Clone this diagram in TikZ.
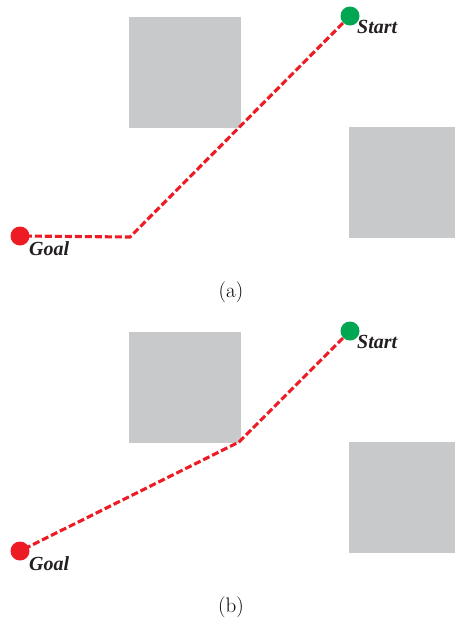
\documentclass[tikz,border=0pt]{standalone}
\usepackage{fontspec}
\setmainfont{Latin Modern Roman}
\newfontfamily\labelfont{Liberation Serif}
\definecolor{obstacle}{RGB}{200,201,203}
\definecolor{pathred}{RGB}{237,28,36}
\definecolor{startgreen}{RGB}{0,166,81}
\definecolor{labelgray}{RGB}{35,31,32}
\begin{document}
\begin{tikzpicture}[x=1pt,y=-1pt,
  obst/.style={fill=obstacle,draw=none},
  route/.style={draw=pathred,line width=3.1pt,dash pattern=on 7pt off 3pt},
  endpt/.style={circle,inner sep=0pt,minimum size=18pt},
  tag/.style={font=\labelfont\bfseries\itshape\fontsize{20}{20}\selectfont,text=labelgray,inner sep=0pt,anchor=base west},
  caption/.style={font=\fontsize{21}{21}\selectfont,inner sep=0pt}]
\useasboundingbox (0,0) rectangle (455,622);
\foreach \oy/\lab in {0/a,315/b}{
  \begin{scope}[yshift=-\oy pt]
  \fill[obst] (129,17) rectangle (241,128);
  \fill[obst] (349,127) rectangle (455,238);
  \node[caption] (cap\lab) at (231,292) {(\lab)};
  \end{scope}
}
% (a): path along the obstacle corner, then straight across
\coordinate (ka) at (130,237);
\node[endpt] (sa) at (350,16) {};
\node[endpt] (ga) at (20,236) {};
\draw[route] (sa.center) -- (ka) -- (ga.center);
\fill[startgreen] (sa) circle (9.5);
\fill[pathred] (ga) circle (9.5);
\node[tag] at (357,33) {Start};
\node[tag] at (29,255) {Goal};
% (b): path bending at the obstacle corner
\coordinate (kb) at (239,442);
\node[endpt] (sb) at (350,331) {};
\node[endpt] (gb) at (20,551) {};
\draw[route] (sb.center) -- (kb) -- (gb.center);
\fill[startgreen] (sb) circle (9.5);
\fill[pathred] (gb) circle (9.5);
\node[tag] at (357,348) {Start};
\node[tag] at (29,570) {Goal};
\end{tikzpicture}
\end{document}
